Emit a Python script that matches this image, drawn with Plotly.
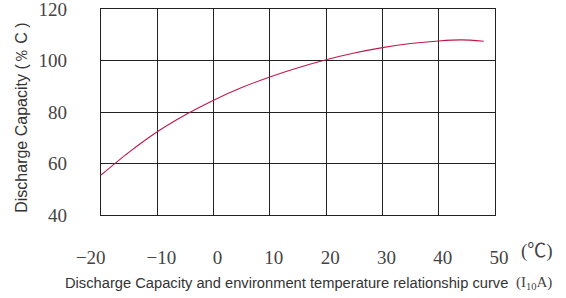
import plotly.graph_objects as go

temperature = [-20, -15, -10, -5, 0, 5, 10, 15, 20, 25, 30, 35, 40, 44, 48]
capacity = [55.5, 64.4, 72.3, 78.9, 84.6, 89.5, 93.6, 97.2, 100.3, 102.9, 105.0, 106.6, 107.6, 108.0, 107.5]

x_ticks = [-20, -10, 0, 10, 20, 30, 40, 50]
x_tick_text = ["\u221220\u2003\u2002", "\u221210", "0", "10", "20", "30", "40", "50"]
y_ticks = [40, 60, 80, 100, 120]

fig = go.Figure()
fig.add_trace(go.Scatter(
    x=temperature, y=capacity, mode="lines",
    line=dict(color="#c01848", width=1.1, shape="spline", smoothing=0.8),
    hoverinfo="skip", showlegend=False,
))

tick_font = dict(family="Liberation Serif, DejaVu Serif, serif", size=19, color="#444444")
fig.update_xaxes(
    range=[-20, 50], tickvals=x_ticks, ticktext=x_tick_text,
    showgrid=True, gridcolor="#222222", gridwidth=1.2,
    showline=True, linecolor="#222222", linewidth=1.2, mirror=True,
    zeroline=False, ticks="", tickfont=tick_font,
    ticklabelstandoff=25, ticklabelshift=4, automargin=False,
    ticklabeloverflow="allow",
)
fig.update_yaxes(
    range=[40, 120], tickvals=y_ticks,
    showgrid=True, gridcolor="#222222", gridwidth=1.2,
    showline=True, linecolor="#222222", linewidth=1.2, mirror=True,
    zeroline=False, ticks="", tickfont=tick_font,
    ticklabelstandoff=29, automargin=False, ticklabeloverflow="allow",
)

sans = "Liberation Sans, Arial, sans-serif"
fig.add_annotation(
    text="Discharge Capacity (\uff05 C )", xref="paper", yref="paper",
    x=-0.2005, y=0.472, textangle=-90, showarrow=False,
    font=dict(family=sans, size=16, color="#333333"),
    xanchor="center", yanchor="middle",
)
fig.add_annotation(
    text="Discharge Capacity and environment temperature relationship curve",
    xref="paper", yref="paper", x=-0.0964, y=-0.33, showarrow=False,
    font=dict(family=sans, size=14.7, color="#333333"),
    xanchor="left", yanchor="middle",
)
fig.add_annotation(
    text="(I<sub>10</sub>A)",
    xref="paper", yref="paper", x=1.099, y=-0.33, showarrow=False,
    font=dict(family="Liberation Serif, DejaVu Serif, serif", size=15, color="#444444"),
    xanchor="center", yanchor="middle",
)
fig.add_annotation(
    text="(\u2103)", xref="paper", yref="paper", x=1.107, y=-0.175, showarrow=False,
    font=dict(family="Liberation Serif, Noto Sans CJK SC, serif", size=19, color="#444444"),
    xanchor="center", yanchor="middle",
)

fig.update_layout(
    width=566, height=298,
    margin=dict(l=101, r=71, t=9, b=83, autoexpand=False),
    paper_bgcolor="white", plot_bgcolor="white",
    showlegend=False,
)
fig.write_html(
    "out.html",
    config={"displayModeBar": False},
    post_script="document.body.style.margin='0';document.body.style.overflow='hidden';",
)
